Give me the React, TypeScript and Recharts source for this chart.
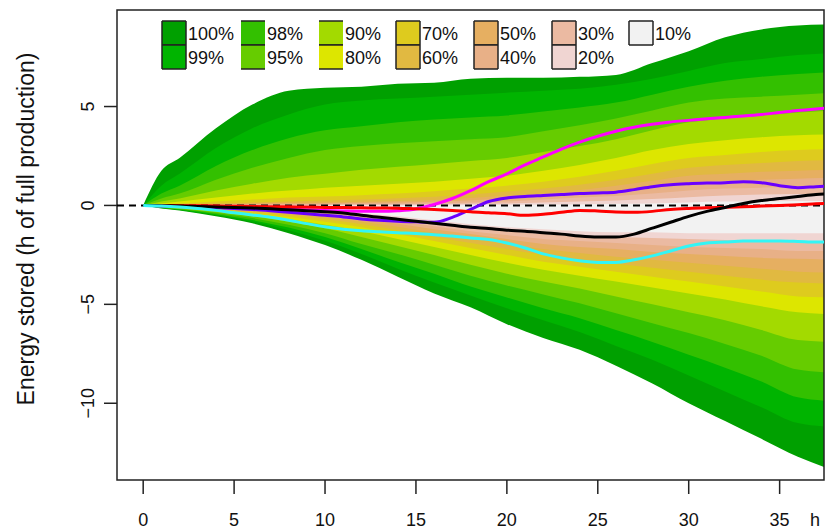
import React from 'react'
import {
    ComposedChart,
    Area,
    Line,
    XAxis,
    YAxis,
    ReferenceLine,
    ReferenceArea,
} from 'recharts'

// hours at which the percentile envelopes were read
const hours = [0, 1, 2, 4, 6, 8, 10, 12, 14, 16, 18, 20, 22, 24, 26, 28, 30, 32, 34, 36, 38]

// upper quantiles
const q100 = [0, 1.75, 2.4, 3.9, 5.1, 5.8, 5.95, 6.0, 6.15, 6.2, 6.4, 6.45, 6.45, 6.5, 6.6, 7.2, 7.8, 8.5, 8.9, 9.1, 9.15]
const q995 = [0, 1.0, 1.6, 2.9, 3.9, 4.6, 5.1, 5.3, 5.4, 5.5, 5.6, 5.7, 5.8, 5.9, 6.1, 6.4, 6.8, 7.2, 7.4, 7.6, 7.7]
const q99 = [0, 0.6, 1.0, 2.0, 2.8, 3.4, 3.8, 4.0, 4.2, 4.35, 4.45, 4.55, 4.75, 4.95, 5.2, 5.6, 6.0, 6.3, 6.5, 6.65, 6.75]
const q975 = [0, 0.35, 0.6, 1.3, 1.9, 2.4, 2.8, 3.0, 3.15, 3.25, 3.35, 3.45, 3.75, 4.05, 4.4, 4.8, 5.2, 5.4, 5.5, 5.6, 5.7]
const q95 = [0, 0.2, 0.35, 0.75, 1.1, 1.4, 1.6, 1.8, 1.95, 2.1, 2.25, 2.4, 2.7, 3.0, 3.35, 3.8, 4.2, 4.4, 4.55, 4.7, 4.8]
const q90 = [0, 0.1, 0.2, 0.4, 0.6, 0.75, 0.9, 1.0, 1.1, 1.2, 1.35, 1.5, 1.75, 2.05, 2.4, 2.8, 3.1, 3.3, 3.45, 3.55, 3.6]
const q85 = [0, 0.05, 0.1, 0.2, 0.3, 0.4, 0.45, 0.52, 0.6, 0.72, 0.85, 1.0, 1.2, 1.45, 1.75, 2.1, 2.4, 2.55, 2.7, 2.8, 2.85]
const q80 = [0, 0.03, 0.05, 0.1, 0.15, 0.2, 0.25, 0.3, 0.36, 0.44, 0.55, 0.7, 0.85, 1.05, 1.3, 1.6, 1.9, 2.05, 2.15, 2.25, 2.3]
const q75 = [0, 0.02, 0.03, 0.06, 0.1, 0.13, 0.15, 0.19, 0.23, 0.28, 0.38, 0.5, 0.6, 0.78, 1.0, 1.25, 1.5, 1.6, 1.7, 1.75, 1.8]
const q70 = [0, 0.01, 0.02, 0.04, 0.06, 0.08, 0.1, 0.12, 0.15, 0.19, 0.26, 0.35, 0.45, 0.55, 0.7, 0.9, 1.15, 1.25, 1.3, 1.35, 1.4]
const q65 = [0, 0.01, 0.01, 0.02, 0.03, 0.04, 0.05, 0.06, 0.08, 0.1, 0.15, 0.2, 0.3, 0.4, 0.48, 0.6, 0.75, 0.85, 0.9, 0.95, 1.0]
const q60 = [0, 0, 0, 0.01, 0.01, 0.02, 0.02, 0.03, 0.04, 0.05, 0.08, 0.1, 0.15, 0.2, 0.25, 0.32, 0.42, 0.5, 0.55, 0.58, 0.6]
const q55 = [0, 0, 0, 0, 0, 0, 0, 0, 0, 0, 0.02, 0.03, 0.05, 0.05, 0.08, 0.1, 0.15, 0.2, 0.2, 0.22, 0.22]

// lower quantiles
const q45 = [0, 0, -0.02, -0.05, -0.1, -0.15, -0.25, -0.4, -0.55, -0.75, -0.95, -1.1, -1.2, -1.3, -1.35, -1.35, -1.4, -1.4, -1.4, -1.4, -1.4]
const q40 = [0, -0.01, -0.03, -0.08, -0.14, -0.2, -0.32, -0.5, -0.68, -0.9, -1.1, -1.3, -1.45, -1.55, -1.6, -1.65, -1.7, -1.75, -1.8, -1.85, -1.85]
const q35 = [0, -0.02, -0.04, -0.1, -0.18, -0.26, -0.4, -0.6, -0.8, -1.05, -1.3, -1.5, -1.7, -1.8, -1.9, -2.0, -2.1, -2.15, -2.2, -2.3, -2.3]
const q30 = [0, -0.02, -0.05, -0.13, -0.22, -0.32, -0.48, -0.7, -0.93, -1.2, -1.45, -1.7, -1.95, -2.1, -2.2, -2.35, -2.45, -2.55, -2.65, -2.7, -2.75]
const q25 = [0, -0.03, -0.06, -0.16, -0.27, -0.4, -0.58, -0.82, -1.08, -1.38, -1.65, -1.95, -2.2, -2.4, -2.6, -2.75, -2.9, -3.05, -3.2, -3.35, -3.4]
const q20 = [0, -0.04, -0.08, -0.2, -0.33, -0.48, -0.7, -0.95, -1.25, -1.58, -1.9, -2.2, -2.5, -2.75, -2.95, -3.15, -3.35, -3.55, -3.75, -3.9, -3.95]
const q15 = [0, -0.05, -0.1, -0.24, -0.4, -0.58, -0.83, -1.1, -1.45, -1.8, -2.15, -2.5, -2.85, -3.1, -3.35, -3.6, -3.85, -4.1, -4.35, -4.6, -4.65]
const q10 = [0, -0.06, -0.12, -0.29, -0.48, -0.7, -0.98, -1.3, -1.7, -2.1, -2.5, -2.9, -3.25, -3.55, -3.85, -4.15, -4.45, -4.75, -5.1, -5.4, -5.5]
const q05 = [0, -0.08, -0.15, -0.33, -0.55, -0.82, -1.15, -1.6, -2.05, -2.5, -3.0, -3.45, -3.85, -4.2, -4.6, -5.0, -5.4, -5.8, -6.3, -6.8, -6.9]
const q025 = [0, -0.1, -0.18, -0.38, -0.64, -0.98, -1.4, -1.95, -2.45, -3.0, -3.55, -4.05, -4.5, -4.95, -5.45, -5.95, -6.45, -7.0, -7.6, -8.3, -8.45]
const q01 = [0, -0.12, -0.21, -0.44, -0.74, -1.12, -1.6, -2.2, -2.85, -3.45, -4.1, -4.65, -5.2, -5.7, -6.3, -6.9, -7.55, -8.2, -8.9, -9.7, -9.9]
const q005 = [0, -0.13, -0.23, -0.49, -0.82, -1.25, -1.78, -2.45, -3.2, -3.9, -4.55, -5.2, -5.8, -6.4, -7.1, -7.8, -8.6, -9.4, -10.2, -11.0, -11.2]
const q0 = [0, -0.15, -0.26, -0.55, -0.9, -1.4, -2.0, -2.75, -3.6, -4.45, -5.15, -6.0, -6.7, -7.3, -8.1, -9.0, -10.0, -10.9, -11.8, -12.7, -13.4]

// single runs
const lineHours = [0, 1, 2, 3, 4, 5, 6, 7, 8, 9, 10, 11, 12, 13, 14, 15, 16, 17, 18, 19, 20, 21, 22, 23, 24, 25, 26, 27, 28, 29, 30, 31, 32, 33, 34, 35, 36, 37, 38]
const magentaRun = [0, -0.02, -0.05, -0.08, -0.1, -0.13, -0.15, -0.18, -0.2, -0.22, -0.25, -0.28, -0.3, -0.3, -0.27, -0.18, 0.05, 0.35, 0.75, 1.2, 1.6, 2.05, 2.45, 2.85, 3.2, 3.5, 3.75, 3.95, 4.1, 4.22, 4.3, 4.38, 4.45, 4.52, 4.6, 4.7, 4.8, 4.88, 4.95]
const blueRun = [0, -0.02, -0.05, -0.08, -0.12, -0.15, -0.2, -0.27, -0.35, -0.42, -0.5, -0.58, -0.68, -0.75, -0.8, -0.83, -0.85, -0.6, -0.2, 0.2, 0.38, 0.45, 0.5, 0.55, 0.6, 0.63, 0.67, 0.8, 0.95, 1.05, 1.1, 1.13, 1.15, 1.2, 1.15, 1.0, 0.9, 0.95, 1.0]
const redRun = [0, 0, -0.01, -0.02, -0.03, -0.04, -0.05, -0.06, -0.07, -0.08, -0.1, -0.11, -0.12, -0.13, -0.14, -0.17, -0.2, -0.25, -0.32, -0.37, -0.42, -0.5, -0.45, -0.35, -0.25, -0.28, -0.33, -0.35, -0.3, -0.2, -0.15, -0.12, -0.1, -0.07, -0.03, 0, 0.03, 0.08, 0.12]
const blackRun = [0, -0.01, -0.03, -0.05, -0.08, -0.1, -0.13, -0.17, -0.22, -0.27, -0.32, -0.38, -0.5, -0.6, -0.7, -0.8, -0.9, -1.0, -1.1, -1.17, -1.25, -1.3, -1.38, -1.45, -1.55, -1.6, -1.6, -1.45, -1.15, -0.85, -0.55, -0.3, -0.1, 0.1, 0.25, 0.35, 0.45, 0.55, 0.62]
const cyanRun = [0, -0.03, -0.08, -0.15, -0.25, -0.37, -0.48, -0.6, -0.75, -0.92, -1.08, -1.2, -1.28, -1.33, -1.38, -1.42, -1.48, -1.55, -1.65, -1.72, -1.9, -2.15, -2.45, -2.65, -2.8, -2.88, -2.88, -2.75, -2.55, -2.3, -2.05, -1.9, -1.85, -1.8, -1.8, -1.8, -1.82, -1.85, -1.85]

const xTicks = [0, 5, 10, 15, 20, 25, 30, 35]
const yTicks = [-10, -5, 0, 5]

const bands = [
    { key: 'b100', label: '100%', color: '#00A000', lo: q0, hi: q100 },
    { key: 'b99', label: '99%', color: '#00B400', lo: q005, hi: q995 },
    { key: 'b98', label: '98%', color: '#33C000', lo: q01, hi: q99 },
    { key: 'b95', label: '95%', color: '#66CC00', lo: q025, hi: q975 },
    { key: 'b90', label: '90%', color: '#A3DA00', lo: q05, hi: q95 },
    { key: 'b80', label: '80%', color: '#DDE600', lo: q10, hi: q90 },
    { key: 'b70', label: '70%', color: '#DECB1E', lo: q15, hi: q85 },
    { key: 'b60', label: '60%', color: '#E1B941', lo: q20, hi: q80 },
    { key: 'b50', label: '50%', color: '#E6AF61', lo: q25, hi: q75 },
    { key: 'b40', label: '40%', color: '#E8B087', lo: q30, hi: q70 },
    { key: 'b30', label: '30%', color: '#EBBAA2', lo: q35, hi: q65 },
    { key: 'b20', label: '20%', color: '#F0D5D2', lo: q40, hi: q60 },
    { key: 'b10', label: '10%', color: '#F2F2F2', lo: q45, hi: q55 },
]

const runs = [
    { key: 'magenta', color: '#FF00FF', values: magentaRun },
    { key: 'blue', color: '#6A00FF', values: blueRun },
    { key: 'red', color: '#FF0000', values: redRun },
    { key: 'black', color: '#000000', values: blackRun },
    { key: 'cyan', color: '#33F5F5', values: cyanRun },
]

const bandData = hours.map((h, i) => {
    const row: Record<string, any> = { h }
    bands.forEach((b) => { row[b.key] = [b.lo[i], b.hi[i]] })
    return row
})

const runData = lineHours.map((h, i) => {
    const row: Record<string, any> = { h }
    runs.forEach((r) => { row[r.key] = r.values[i] })
    return row
})

const FONT = '"Liberation Sans", Arial, sans-serif'
const X_DOMAIN = [-1.44, 37.44]
const Y_DOMAIN = [-13.88, 9.88]

function XTick({ x, y, payload }: any) {
    return (
        <text x={x} y={y + 24} textAnchor="middle" dominantBaseline="central"
            fontFamily={FONT} fontSize={18} fill="#111">
            {payload.value}
        </text>
    )
}

function YTick({ x, y, payload }: any) {
    const label = String(payload.value).replace('-', '\u2212')
    const cx = x - 14
    return (
        <text x={cx} y={y} textAnchor="middle" dominantBaseline="central"
            transform={`rotate(-90 ${cx} ${y})`}
            fontFamily={FONT} fontSize={18} fill="#111">
            {label}
        </text>
    )
}

// columns of the legend: first row, second row
const legendCols = [
    [0, 1], [2, 3], [4, 5], [6, 7], [8, 9], [10, 11], [12],
]
const noSides = ['b98', 'b95', 'b90', 'b80']

function FanLegend() {
    const colX = [162, 241, 319, 396, 474, 552, 629]
    const rowY = [21, 45]
    const bw = 24
    const bh = 24
    return (
        <svg width={832} height={531} style={{ position: 'absolute', left: 0, top: 0, pointerEvents: 'none' }}>
            {legendCols.map((col, ci) =>
                col.map((bi, ri) => {
                    const b = bands[bi]
                    const x = colX[ci]
                    const y = rowY[ri]
                    const sides = !noSides.includes(b.key)
                    return (
                        <g key={b.key}>
                            <rect x={x} y={y} width={bw} height={bh} fill={b.color} stroke="none" />
                            <line x1={x} x2={x + bw} y1={y} y2={y} stroke="#222" strokeWidth={1.5} />
                            <line x1={x} x2={x + bw} y1={y + bh} y2={y + bh} stroke="#222" strokeWidth={1.5} />
                            {sides && (
                                <>
                                    <line x1={x} x2={x} y1={y} y2={y + bh} stroke="#222" strokeWidth={1.5} />
                                    <line x1={x + bw} x2={x + bw} y1={y} y2={y + bh} stroke="#222" strokeWidth={1.5} />
                                </>
                            )}
                            <text x={x + bw + 2} y={y + bh / 2 + 1} dominantBaseline="central"
                                fontFamily={FONT} fontSize={18} fill="#111">
                                {b.label}
                            </text>
                        </g>
                    )
                })
            )}
        </svg>
    )
}

export default function App() {
    return (
        <div style={{ position: 'absolute', left: 0, top: 0, width: 832, height: 531, background: '#fff' }}>
            <ComposedChart width={832} height={531} margin={{ top: 10, right: 8, bottom: 0, left: 0 }}>
                <XAxis
                    type="number"
                    dataKey="h"
                    domain={X_DOMAIN}
                    allowDataOverflow
                    ticks={xTicks}
                    interval={0}
                    height={51}
                    axisLine={false}
                    tickSize={14}
                    tickLine={{ stroke: '#222', strokeWidth: 1.5 }}
                    tick={<XTick />}
                    label={({ viewBox }: any) => (
                        <text x={viewBox.x + viewBox.width - 9} y={520} textAnchor="middle" dominantBaseline="central"
                            fontFamily={FONT} fontSize={18} fill="#111">h</text>
                    )}
                />
                <YAxis
                    type="number"
                    domain={Y_DOMAIN}
                    allowDataOverflow
                    ticks={yTicks}
                    interval={0}
                    width={117}
                    axisLine={false}
                    tickSize={13}
                    tickLine={{ stroke: '#222', strokeWidth: 1.5 }}
                    tick={<YTick />}
                    label={() => (
                        <text x={26} y={229} textAnchor="middle" dominantBaseline="central"
                            transform="rotate(-90 26 229)"
                            fontFamily={FONT} fontSize={23} fill="#111">
                            Energy stored (h of full production)
                        </text>
                    )}
                />
                {bands.map((b) => (
                    <Area
                        key={b.key}
                        data={bandData}
                        dataKey={b.key}
                        type="monotone"
                        stroke="none"
                        fill={b.color}
                        fillOpacity={1}
                        isAnimationActive={false}
                    />
                ))}
                <ReferenceLine y={0} stroke="#000" strokeWidth={2} strokeDasharray="7 5" />
                {runs.map((r) => (
                    <Line
                        key={r.key}
                        data={runData}
                        dataKey={r.key}
                        type="monotone"
                        stroke={r.color}
                        strokeWidth={3}
                        dot={false}
                        isAnimationActive={false}
                    />
                ))}
                <ReferenceArea
                    x1={X_DOMAIN[0]}
                    x2={X_DOMAIN[1]}
                    y1={Y_DOMAIN[0]}
                    y2={Y_DOMAIN[1]}
                    fill="none"
                    fillOpacity={0}
                    stroke="#222"
                    strokeWidth={1.5}
                />
            </ComposedChart>
            <FanLegend />
        </div>
    )
}
